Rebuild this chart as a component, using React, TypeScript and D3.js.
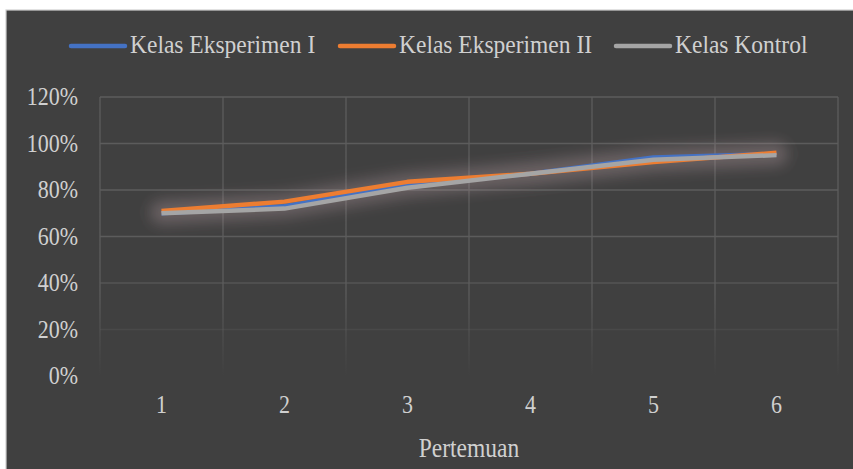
import React from "react";
import * as d3 from "d3";

const categories = ["1", "2", "3", "4", "5", "6"];
const eksperimen1 = [0.70, 0.73, 0.82, 0.87, 0.94, 0.955];
const eksperimen2 = [0.71, 0.75, 0.835, 0.87, 0.92, 0.96];
const kontrol = [0.70, 0.72, 0.81, 0.87, 0.93, 0.95];
const yTicks = [0, 0.2, 0.4, 0.6, 0.8, 1.0, 1.2];
const seriesNames = ["Kelas Eksperimen I", "Kelas Eksperimen II", "Kelas Kontrol"];
const seriesColors = ["#4472C4", "#ED7D31", "#A5A5A5"];
const xTitle = "Pertemuan";

const W = 853;
const H = 469;

export default function App() {
  const x = d3.scaleBand().domain(categories).range([100, 838]);
  const y = d3.scaleLinear().domain([0, 1.2]).range([376, 97]);
  const series = [eksperimen1, eksperimen2, kontrol];
  const line = d3
    .line<number>()
    .x((_, i) => (x(categories[i]) as number) + x.bandwidth() / 2)
    .y((d) => y(d))
    .curve(d3.curveLinear);

  const legendX = [71, 340, 616];
  const font = "'Liberation Serif', 'Times New Roman', serif";
  const textColor = "#d0d0d0";
  const grid = "#5c5c5c";

  return (
    <div style={{ position: "fixed", left: 0, top: 0 }}>
      <svg width={W} height={H} style={{ display: "block" }}>
        <defs>
          <filter id="glow" x="-20%" y="-80%" width="140%" height="260%">
            <feGaussianBlur stdDeviation="7" />
          </filter>
          <linearGradient id="vfade" gradientUnits="userSpaceOnUse" x1="0" y1="97" x2="0" y2="376">
            <stop offset="0" stopColor={grid} stopOpacity="1" />
            <stop offset="0.7" stopColor={grid} stopOpacity="1" />
            <stop offset="1" stopColor={grid} stopOpacity="0" />
          </linearGradient>
        </defs>
        <rect x={0} y={0} width={W} height={H} fill="#ffffff" />
        <rect x={6} y={10} width={W} height={H} fill="#404040" stroke="#d0d0d0" strokeWidth={1.2} />

        {/* horizontal gridlines */}
        {yTicks.map((t) => {
          const op = t <= 0.001 ? 0 : t < 0.3 ? 0.35 : t < 0.5 ? 0.75 : 1;
          return (
            <line key={"h" + t} x1={100} x2={838} y1={y(t)} y2={y(t)} stroke={grid} strokeWidth={1.3} strokeOpacity={op} />
          );
        })}
        {/* vertical gridlines */}
        {categories.map((c) => (
          <line key={"v" + c} x1={x(c) as number} x2={x(c) as number} y1={97} y2={376} stroke="url(#vfade)" strokeWidth={1.3} />
        ))}
        <line x1={838} x2={838} y1={97} y2={376} stroke="url(#vfade)" strokeWidth={1.3} />

        {/* y tick labels */}
        {yTicks.map((t) => (
          <g key={"yl" + t} transform={`translate(78,${y(t) + 8}) scale(1,1.12)`}>
            <text textAnchor="end" fontFamily={font} fontSize={22} fill={textColor}>
              {d3.format(".0%")(t)}
            </text>
          </g>
        ))}

        {/* category labels */}
        {categories.map((c) => (
          <g key={"xl" + c} transform={`translate(${(x(c) as number) + x.bandwidth() / 2},413) scale(1,1.12)`}>
            <text textAnchor="middle" fontFamily={font} fontSize={22} fill={textColor}>
              {c}
            </text>
          </g>
        ))}

        {/* axis title */}
        <g transform={`translate(469,457) scale(1,1.12)`}>
          <text textAnchor="middle" fontFamily={font} fontSize={23.5} fill={textColor}>
            {xTitle}
          </text>
        </g>

        {/* glow */}
        {series.map((s, i) => (
          <path key={"g" + i} d={line(s) as string} fill="none" stroke="#c9a8aa" strokeOpacity={0.12} strokeWidth={22} strokeLinecap="round" strokeLinejoin="round" filter="url(#glow)" />
        ))}

        {/* lines */}
        {series.map((s, i) => (
          <path key={"l" + i} d={line(s) as string} fill="none" stroke={seriesColors[i]} strokeWidth={4.5} strokeLinejoin="round" />
        ))}

        {/* legend */}
        {seriesNames.map((n, i) => (
          <g key={"lg" + i}>
            <line x1={legendX[i]} x2={legendX[i] + 54} y1={46} y2={46} stroke={seriesColors[i]} strokeWidth={4.5} strokeLinecap="round" />
            <g transform={`translate(${legendX[i] + 59},53) scale(1,1.1)`}>
              <text fontFamily={font} fontSize={23.5} fill={textColor}>
                {n}
              </text>
            </g>
          </g>
        ))}
      </svg>
    </div>
  );
}
